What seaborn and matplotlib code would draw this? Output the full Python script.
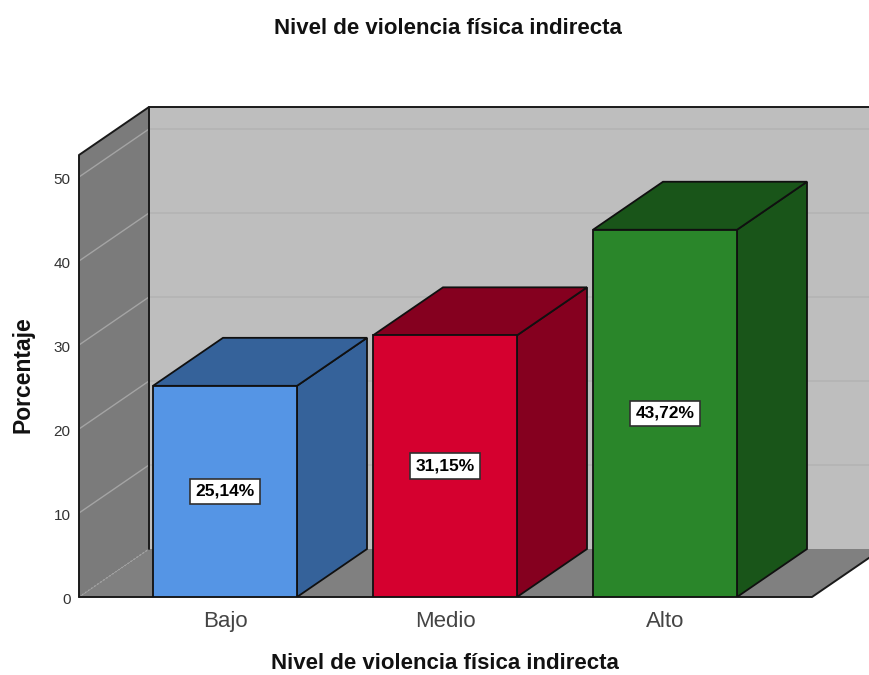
import matplotlib
matplotlib.use("Agg")
import matplotlib.pyplot as plt
from matplotlib.transforms import ScaledTranslation
import pandas as pd
import seaborn as sns

title = "Nivel de violencia física indirecta"
x_label = "Nivel de violencia física indirecta"
y_label = "Porcentaje"
categories = ["Bajo", "Medio", "Alto"]
values = [25.14, 31.15, 43.72]
value_labels = ["25,14%", "31,15%", "43,72%"]
y_ticks = [0, 10, 20, 30, 40, 50]
front_colors = ["#5595E5", "#D5002F", "#2A862A"]
side_colors = ["#35629A", "#85001F", "#195519"]

W, H = 869, 675
sns.set_theme(style="white")
plt.rcParams["font.family"] = ["Liberation Sans", "DejaVu Sans"]

fig = plt.figure(figsize=(W / 100, H / 100), dpi=100)
ax = fig.add_axes([79 / W, 1 - 597 / H, (W - 79) / W, 490 / H])

df = pd.DataFrame({"nivel": categories, "pct": values})
sns.barplot(data=df, x="nivel", y="pct", hue="nivel", order=categories,
            hue_order=categories, palette=dict(zip(categories, front_colors)),
            saturation=1, width=144 / 220, edgecolor="#101010", linewidth=1.3,
            legend=False, ax=ax, zorder=4)

x0, x_end = (79 - 225) / 220, (869 - 225) / 220
ax.set_xlim(x0, x_end)
ax.set_ylim(0, 490 / 8.4)
dx, dy = 70 / 220, 48 / 8.4      # oblique depth of the fake 3D box
wall_top = 442 / 8.4
x_front_end = (812 - 225) / 220

edge = "#1A1A1A"
# back wall, left wall, floor
ax.fill([x0 + dx, x_front_end + dx + 1, x_front_end + dx + 1, x0 + dx],
        [dy, dy, dy + wall_top, dy + wall_top], fc="#BEBEBE", ec="none", zorder=1)
ax.fill([x0, x0 + dx, x0 + dx, x0], [0, dy, dy + wall_top, wall_top],
        fc="#7B7B7B", ec="none", zorder=1)
ax.fill([x0, x_front_end, x_front_end + dx, x0 + dx], [0, 0, dy, dy],
        fc="#808080", ec="none", zorder=1)

# gridlines on both walls
for t in y_ticks[1:]:
    ax.plot([x0, x0 + dx], [t, t + dy], color="#A4A4A4", lw=1.0, zorder=2)
    ax.plot([x0 + dx, x_end], [t + dy, t + dy], color="#B4B4B4", lw=1.2, zorder=2)
ax.plot([x0, x0 + dx], [0, dy], color="#A4A4A4", lw=1, ls=":", zorder=2)

# box outline
line = dict(color=edge, lw=1.4, zorder=3, clip_on=False, solid_capstyle="round")
ax.plot([x0, x0, x0 + dx, x_end], [0, wall_top, dy + wall_top, dy + wall_top], **line)
ax.plot([x0 + dx, x0 + dx], [dy, dy + wall_top], **line)
ax.plot([x0, x_front_end, x_front_end + dx], [0, 0, dy], **line)

# side and top faces, derived from the seaborn bars
for bar, side, text in zip(ax.patches, side_colors, value_labels):
    left, w, h = bar.get_x(), bar.get_width(), bar.get_height()
    right = left + w
    ax.fill([right, right + dx, right + dx, right], [0, dy, h + dy, h],
            fc=side, ec="#101010", lw=1.3, zorder=3.5)
    ax.fill([left, left + dx, right + dx, right], [h, h + dy, h + dy, h],
            fc=side, ec="#101010", lw=1.3, zorder=3.5)
    ax.text(left + w / 2, h / 2, text, ha="center", va="center", zorder=6,
            fontsize=12.5, fontweight="bold", color="black",
            bbox=dict(boxstyle="square,pad=0.3", fc="white", ec="#303030", lw=1.2))

ax.set_xlabel("")
ax.set_ylabel("")
ax.set_yticks(y_ticks)
ax.set_xticks(range(len(categories)), categories)
ax.tick_params(axis="y", length=0, pad=6, labelsize=11, labelcolor="#333333")
ax.tick_params(axis="x", length=0, pad=10, labelsize=16, labelcolor="#444444")
for lab in ax.get_yticklabels():
    lab.set_transform(lab.get_transform() + ScaledTranslation(0, -2 / 100, fig.dpi_scale_trans))
sns.despine(ax=ax, left=True, bottom=True, top=True, right=True)
ax.patch.set_visible(False)

fig.text(448 / W, 1 - 28 / H, title, ha="center", va="center",
         fontsize=16, fontweight="bold", color="#111111")
fig.text(445 / W, 1 / H, x_label, ha="center", va="bottom",
         fontsize=16, fontweight="bold", color="#111111")
fig.text(23.5 / W, 1 - 375 / H, y_label, ha="center", va="center", rotation=90,
         fontsize=16.5, fontweight="bold", color="#111111")

fig.savefig("out.png", dpi=100)
